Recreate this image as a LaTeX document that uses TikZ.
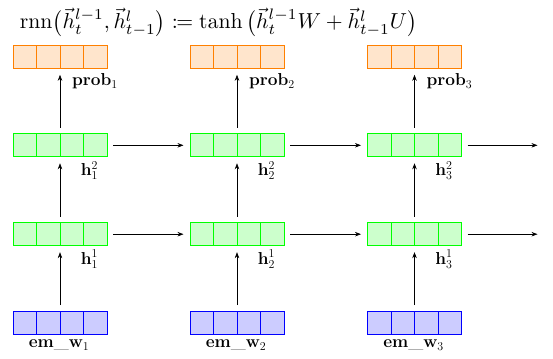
\documentclass[tikz,border=0pt]{standalone}
\usepackage{mathtools}
\usetikzlibrary{arrows.meta,calc}
\tikzset{
  cellrow/.style={draw=#1, fill=#1!20, line width=0.8pt, minimum width=94pt, minimum height=23pt,
    inner sep=0pt, outer sep=0pt,
    path picture={\foreach \i in {1,2,3}{\draw[#1, line width=0.8pt]
      ([xshift=\i*23.5pt]path picture bounding box.south west) --
      ([xshift=\i*23.5pt]path picture bounding box.north west);}}},
  flow/.style={-{Stealth[length=6pt,width=4.5pt]}, line width=0.6pt, shorten <=6pt, shorten >=6.5pt},
  lbl/.style={font=\LARGE, inner sep=0pt},
}
\begin{document}
\begin{tikzpicture}[x=1pt,y=-1pt]
\useasboundingbox (0,0) rectangle (553,358);
% title
\node[inner sep=0pt, anchor=base] (title) at (218.5,29) {\resizebox{397pt}{!}{$\mathrm{rnn}\bigl(\vec{h}_t^{l-1}, \vec{h}_{t-1}^{l}\bigr) \coloneqq \tanh\,\bigl(\vec{h}_t^{l-1}W + \vec{h}_{t-1}^{l}U\bigr)$}};
% blocks
\node[cellrow=orange] (p1) at (60,56.8) {};
\node[cellrow=orange] (p2) at (237,56.8) {};
\node[cellrow=orange] (p3) at (414.5,56.8) {};
\node[cellrow=green] (b1) at (60,145.3) {};
\node[cellrow=green] (b2) at (237,145.3) {};
\node[cellrow=green] (b3) at (414.5,145.3) {};
\node[cellrow=green] (a1) at (60,234.2) {};
\node[cellrow=green] (a2) at (237,234.2) {};
\node[cellrow=green] (a3) at (414.5,234.2) {};
\node[cellrow=blue] (e1) at (60,322.7) {};
\node[cellrow=blue] (e2) at (237,322.7) {};
\node[cellrow=blue] (e3) at (414.5,322.7) {};
% vertical arrows
\foreach \c in {1,2,3}{
  \draw[flow] (e\c) -- (a\c);
  \draw[flow] (a\c) -- (b\c);
  \draw[flow] (b\c) -- (p\c);
}
% horizontal arrows
\coordinate (ra) at (537.5,234.2);
\coordinate (rb) at (537.5,145.3);
\draw[flow] (a1) -- (a2);
\draw[flow] (a2) -- (a3);
\draw[flow, shorten >=0pt] (a3) -- (ra);
\draw[flow] (b1) -- (b2);
\draw[flow] (b2) -- (b3);
\draw[flow, shorten >=0pt] (b3) -- (rb);
% labels
\foreach \c in {1,2,3}{
  \node[lbl] (lp\c) at ($(p\c.south)+(35,12.7)$) {$\mathbf{prob}_{\c}$};
  \node[lbl] (lb\c) at ($(b\c.south)+(29.5,14)$) {$\mathbf{h}_{\c}^{2}$};
  \node[lbl] (la\c) at ($(a\c.south)+(29.5,13.5)$) {$\mathbf{h}_{\c}^{1}$};
  \node[lbl] (le\c) at ($(e\c.south)+(-1,10.7)$) {$\mathbf{em}\scalebox{1.25}[1]{$\mathbf{\_}$}\mathbf{w}_{\c}$};
}
\end{tikzpicture}
\end{document}
